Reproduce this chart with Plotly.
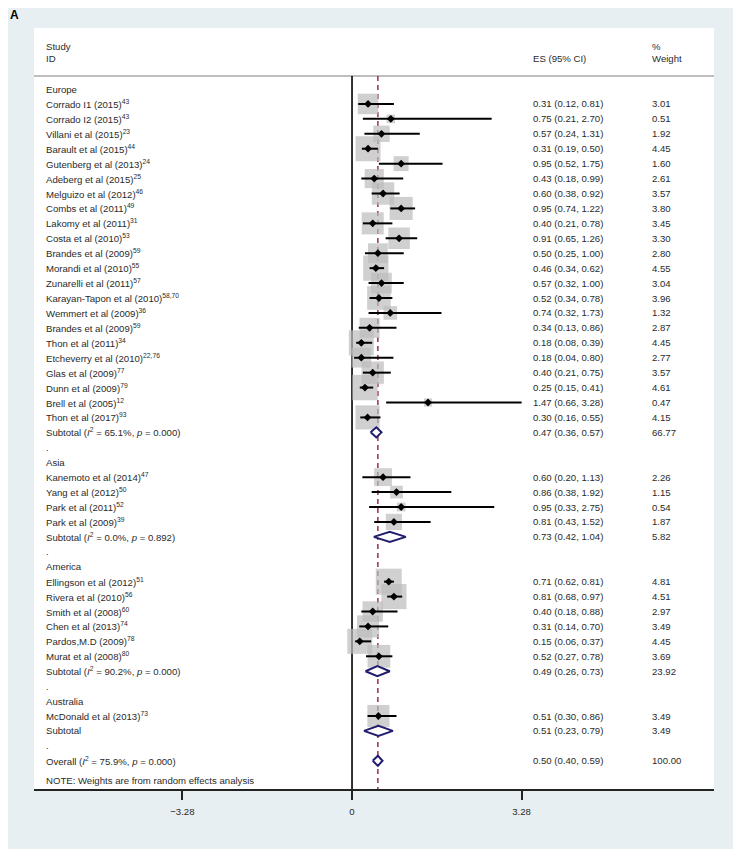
import math
import plotly.graph_objects as go

# ---------------- data ----------------
labels = [
    "Europe",
    "Corrado I1 (2015)<sup>43</sup>",
    "Corrado I2 (2015)<sup>43</sup>",
    "Villani et al (2015)<sup>23</sup>",
    "Barault et al (2015)<sup>44</sup>",
    "Gutenberg et al (2013)<sup>24</sup>",
    "Adeberg et al (2015)<sup>25</sup>",
    "Melguizo et al (2012)<sup>46</sup>",
    "Combs et al (2011)<sup>49</sup>",
    "Lakomy et al (2011)<sup>31</sup>",
    "Costa et al (2010)<sup>53</sup>",
    "Brandes et al (2009)<sup>59</sup>",
    "Morandi et al (2010)<sup>55</sup>",
    "Zunarelli et al (2011)<sup>57</sup>",
    "Karayan-Tapon et al (2010)<sup>58,70</sup>",
    "Wemmert et al (2009)<sup>36</sup>",
    "Brandes et al (2009)<sup>59</sup>",
    "Thon et al (2011)<sup>34</sup>",
    "Etcheverry et al (2010)<sup>22,76</sup>",
    "Glas et al (2009)<sup>77</sup>",
    "Dunn et al (2009)<sup>79</sup>",
    "Brell et al (2005)<sup>12</sup>",
    "Thon et al (2017)<sup>93</sup>",
    "Subtotal (<i>I</i><sup>2</sup> = 65.1%, <i>p</i> = 0.000)",
    ".",
    "Asia",
    "Kanemoto et al (2014)<sup>47</sup>",
    "Yang et al (2012)<sup>50</sup>",
    "Park et al (2011)<sup>52</sup>",
    "Park et al (2009)<sup>39</sup>",
    "Subtotal (<i>I</i><sup>2</sup> = 0.0%, <i>p</i> = 0.892)",
    ".",
    "America",
    "Ellingson et al (2012)<sup>51</sup>",
    "Rivera et al (2010)<sup>56</sup>",
    "Smith et al (2008)<sup>60</sup>",
    "Chen et al (2013)<sup>74</sup>",
    "Pardos,M.D (2009)<sup>78</sup>",
    "Murat et al (2008)<sup>80</sup>",
    "Subtotal (<i>I</i><sup>2</sup> = 90.2%, <i>p</i> = 0.000)",
    ".",
    "Australia",
    "McDonald et al (2013)<sup>73</sup>",
    "Subtotal",
    ".",
    "Overall (<i>I</i><sup>2</sup> = 75.9%, <i>p</i> = 0.000)",
]

kinds = (["group"] + ["study"] * 22 + ["pooled", "blank", "group"] + ["study"] * 4
         + ["pooled", "blank", "group"] + ["study"] * 6 + ["pooled", "blank", "group"]
         + ["study", "pooled", "blank", "pooled"])

es = [None, 0.31, 0.75, 0.57, 0.31, 0.95, 0.43, 0.60, 0.95, 0.40, 0.91, 0.50, 0.46, 0.57,
      0.52, 0.74, 0.34, 0.18, 0.18, 0.40, 0.25, 1.47, 0.30, 0.47, None,
      None, 0.60, 0.86, 0.95, 0.81, 0.73, None,
      None, 0.71, 0.81, 0.40, 0.31, 0.15, 0.52, 0.49, None,
      None, 0.51, 0.51, None, 0.50]
ci_low = [None, 0.12, 0.21, 0.24, 0.19, 0.52, 0.18, 0.38, 0.74, 0.21, 0.65, 0.25, 0.34, 0.32,
          0.34, 0.32, 0.13, 0.08, 0.04, 0.21, 0.15, 0.66, 0.16, 0.36, None,
          None, 0.20, 0.38, 0.33, 0.43, 0.42, None,
          None, 0.62, 0.68, 0.18, 0.14, 0.06, 0.27, 0.26, None,
          None, 0.30, 0.23, None, 0.40]
ci_high = [None, 0.81, 2.70, 1.31, 0.50, 1.75, 0.99, 0.92, 1.22, 0.78, 1.26, 1.00, 0.62, 1.00,
           0.78, 1.73, 0.86, 0.39, 0.80, 0.75, 0.41, 3.28, 0.55, 0.57, None,
           None, 1.13, 1.92, 2.75, 1.52, 1.04, None,
           None, 0.81, 0.97, 0.88, 0.70, 0.37, 0.78, 0.73, None,
           None, 0.86, 0.79, None, 0.59]
weights = [None, 3.01, 0.51, 1.92, 4.45, 1.60, 2.61, 3.57, 3.80, 3.45, 3.30, 2.80, 4.55, 3.04,
           3.96, 1.32, 2.87, 4.45, 2.77, 3.57, 4.61, 0.47, 4.15, 66.77, None,
           None, 2.26, 1.15, 0.54, 1.87, 5.82, None,
           None, 4.81, 4.51, 2.97, 3.49, 4.45, 3.69, 23.92, None,
           None, 3.49, 3.49, None, 100.00]

tick_vals = [-3.28, 0, 3.28]
tick_text = ["\u22123.28", "0", "3.28"]
note_text = "NOTE: Weights are from random effects analysis"

# ---------------- styling ----------------
FONT = "Liberation Sans, Arial, sans-serif"
FS = 9.6
TXT = "#2a2a2a"
BG = "#e8eff2"
BOX = "#bcbcbc"
NAVY = "#211d6e"
RED = "#8e2436"

rows = list(range(1, len(labels) + 1))
y_top, y_bot = -3.086, 47.89
x_lo, x_hi = -6.15, 7.0

fig = go.Figure()

# weight boxes
st = [i for i, k in enumerate(kinds) if k == "study"]
fig.add_trace(go.Scatter(
    x=[es[i] for i in st], y=[rows[i] for i in st], mode="markers",
    marker=dict(symbol="square", color=BOX, size=[11.85 * math.sqrt(weights[i]) for i in st],
                line=dict(width=0)),
    hoverinfo="skip", showlegend=False))

# CI lines
cx, cy = [], []
for i in st:
    cx += [ci_low[i], ci_high[i], None]
    cy += [rows[i], rows[i], None]
fig.add_trace(go.Scatter(x=cx, y=cy, mode="lines", line=dict(color="black", width=2),
                         hoverinfo="skip", showlegend=False))

# point estimates
fig.add_trace(go.Scatter(
    x=[es[i] for i in st], y=[rows[i] for i in st], mode="markers",
    marker=dict(symbol="diamond", color="black", size=6, line=dict(width=0)),
    hoverinfo="skip", showlegend=False))

# pooled diamonds
hh = 0.34
for i, k in enumerate(kinds):
    if k == "pooled":
        r = rows[i]
        fig.add_trace(go.Scatter(
            x=[ci_low[i], es[i], ci_high[i], es[i], ci_low[i]],
            y=[r, r - hh, r, r + hh, r], mode="lines", fill="toself", fillcolor="white",
            line=dict(color=NAVY, width=2), hoverinfo="skip", showlegend=False))

# reference lines
overall_es = es[-1]
fig.add_shape(type="line", xref="x", yref="y", x0=0, x1=0, y0=0.13, y1=y_bot,
              line=dict(color="black", width=1.6), layer="below")
fig.add_shape(type="line", xref="x", yref="y", x0=overall_es, x1=overall_es, y0=0.13, y1=y_bot,
              line=dict(color=RED, width=1.4, dash="5px,4px"), layer="below")
# header separator
fig.add_shape(type="line", xref="paper", yref="y", x0=0, x1=1, y0=0.13, y1=0.13,
              line=dict(color="#a8a8a8", width=1.5), layer="below")

# text columns
XL, XE, XW = 0.0166, 0.7328, 0.907
ann = []


def add(x, y, text, yref="y", size=FS):
    ann.append(dict(x=x, y=y, xref="paper", yref=yref, text=text,
                    showarrow=False, xanchor="left", yanchor="middle", borderpad=0,
                    font=dict(family=FONT, size=size, color=TXT)))


for i, lab in enumerate(labels):
    add(XL, rows[i], lab)
    if es[i] is not None:
        add(XE, rows[i], "%.2f (%.2f, %.2f)" % (es[i], ci_low[i], ci_high[i]))
        add(XW, rows[i], "%.2f" % weights[i])

add(XL, -1.83, "Study")
add(XL, -1.01, "ID")
add(XE, -1.01, "ES (95% CI)")
add(XW, -1.83, "%")
add(XW, -1.01, "Weight")
add(XL, 47.35, note_text)
ann.append(dict(x=-0.0385, y=1.0175, xref="paper", yref="paper", text="<b>A</b>", showarrow=False,
                xanchor="left", yanchor="middle", font=dict(family=FONT, size=12, color="black")))

# the page body adds an 8px offset, so the figure is sized to fit the window
fig.update_layout(
    width=733, height=841,
    margin=dict(l=26, r=27, t=20, b=60),
    paper_bgcolor=BG, plot_bgcolor="white",
    annotations=ann,
    showlegend=False,
    xaxis=dict(range=[x_lo, x_hi], tickvals=tick_vals, ticktext=tick_text, ticks="outside",
               ticklen=9, tickwidth=1.5, tickcolor="#222", showline=True, linecolor="#222",
               linewidth=1.5, showgrid=False, zeroline=False, fixedrange=True,
               ticklabelstandoff=4,
               tickfont=dict(family=FONT, size=FS, color=TXT)),
    yaxis=dict(range=[y_bot, y_top], visible=False, showgrid=False, zeroline=False, fixedrange=True),
)

fig.write_html("out.html")
